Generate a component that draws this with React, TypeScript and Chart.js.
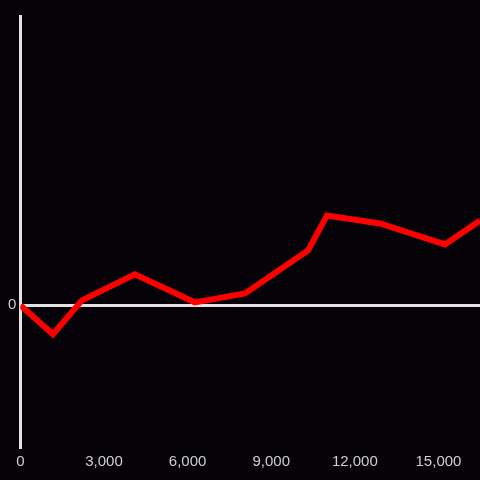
import React, { useEffect, useRef } from "react";
import { Chart, registerables } from "chart.js";

Chart.register(...registerables);

const xValues = [0, 1170, 2210, 4110, 6260, 8060, 10320, 11000, 12900, 15230, 16490];
const yValues = [0, -2.9, 0.5, 3.1, 0.3, 1.2, 5.5, 9.0, 8.2, 6.1, 8.5];
const xTicks = [0, 3000, 6000, 9000, 12000, 15000];
const yTicks = [0];

export default function App() {
  const ref = useRef<HTMLCanvasElement>(null);
  useEffect(() => {
    document.body.style.margin = "0";
    document.body.style.background = "#050307";
    const ctx = ref.current!;
    const font = { family: "'Liberation Sans', Arial, sans-serif", size: 15 };
    const chart = new Chart(ctx, {
      type: "line",
      data: {
        datasets: [
          {
            data: xValues.map((x, i) => ({ x, y: yValues[i] })),
            borderColor: "#ff0000",
            borderWidth: 6,
            pointRadius: 0,
            tension: 0,
            fill: false,
          },
        ],
      },
      options: {
        animation: false,
        responsive: false,
        maintainAspectRatio: false,
        layout: { padding: { left: 4, top: 16, right: 0, bottom: 3 } },
        plugins: { legend: { display: false }, tooltip: { enabled: false } },
        scales: {
          x: {
            type: "linear",
            min: 0,
            max: 16490,
            grid: { display: false, drawTicks: false },
            border: { display: false },
            afterBuildTicks: (axis: any) => {
              axis.ticks = xTicks.map((v) => ({ value: v }));
            },
            ticks: {
              color: "#cfcfcf",
              font,
              padding: 6,
              maxRotation: 0,
              callback: (v: any) => Number(v).toLocaleString("en-US"),
            },
          },
          y: {
            type: "linear",
            min: -14.2,
            max: 29.0,
            afterBuildTicks: (axis: any) => {
              axis.ticks = yTicks.map((v) => ({ value: v }));
            },
            grid: { color: "#e2e2e2", lineWidth: 3, drawTicks: false },
            border: { display: true, color: "#e2e2e2", width: 3 },
            ticks: {
              color: "#cfcfcf",
              font,
              padding: 4,
              callback: (v: any) => String(v),
            },
          },
        },
      },
    });
    return () => chart.destroy();
  }, []);
  return (
    <div style={{ width: 480, height: 480, background: "#050307" }}>
      <canvas ref={ref} width={480} height={480} style={{ display: "block", width: 480, height: 480 }} />
    </div>
  );
}
